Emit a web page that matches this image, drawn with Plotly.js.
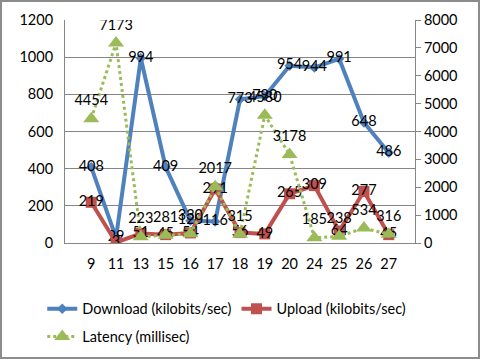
<!DOCTYPE html>
<html>
<head>
<meta charset="utf-8">
<script src="https://cdn.plot.ly/plotly-3.0.1.min.js"></script>
<style>
html,body{margin:0;padding:0;background:#fff;}
#frame{width:480px;height:359px;box-sizing:border-box;border:2px solid #8c8c8c;overflow:hidden;}
#chart{width:476px;height:355px;}
</style>
</head>
<body>
<div id="frame"><div id="chart"></div></div>
<script>
var categories = ["9","11","13","15","16","17","18","19","20","24","25","26","27"];
var download = [408, 29, 994, 409, 120, 116, 773, 790, 954, 944, 991, 648, 486];
var upload = [219, 3, 51, 45, 54, 291, 56, 49, 265, 309, 64, 277, 45];
var latency = [4454, 7173, 223, 281, 330, 2017, 315, 4580, 3178, 185, 238, 534, 316];

var fontFam = "Lato, 'Open Sans', sans-serif";
var fs = 14.5;
var traces = [
  {x: categories, y: download, name: "Download (kilobits/sec)", type: "scatter",
   mode: "lines+markers+text", text: download.map(String), textposition: "middle center",
   textfont: {family: fontFam, size: fs, color: "#000"}, legend: "legend",
   line: {color: "#4F81BD", width: 4}, marker: {symbol: "diamond", size: 8, color: "#4F81BD"}},
  {x: categories, y: upload, name: "Upload (kilobits/sec)", type: "scatter",
   mode: "lines+markers+text", text: upload.map(String), textposition: "middle center",
   textfont: {family: fontFam, size: fs, color: "#000"}, legend: "legend",
   line: {color: "#C0504D", width: 4}, marker: {symbol: "square", size: 11, color: "#C0504D"}},
  {x: categories, y: latency, name: "Latency (millisec)", type: "scatter", yaxis: "y2",
   mode: "lines+markers+text", text: latency.map(String), textposition: "top center",
   textfont: {family: fontFam, size: fs, color: "#000"}, legend: "legend2",
   line: {color: "#9BBB59", width: 3, dash: "dot"}, marker: {symbol: "triangle-up", size: 14, color: "#9BBB59"}}
];

var legendBase = {orientation: "h", xanchor: "left", yanchor: "middle",
                  font: {family: fontFam, size: fs, color: "#000"}, tracegroupgap: 0,
                  bgcolor: "rgba(0,0,0,0)"};
var layout = {
  width: 476, height: 355,
  margin: {l: 63, r: 63, t: 18, b: 114, autoexpand: false},
  paper_bgcolor: "#fff", plot_bgcolor: "#fff",
  font: {family: fontFam, size: fs, color: "#000"},
  showlegend: true,
  legend: Object.assign({}, legendBase, {x: -0.065, y: -0.295}),
  legend2: Object.assign({}, legendBase, {x: -0.065, y: -0.42}),
  xaxis: {type: "category", showline: true, linecolor: "#868686", linewidth: 1,
          showgrid: false, ticks: "outside", ticklen: 8, tickcolor: "rgba(0,0,0,0)",
          tickfont: {family: fontFam, size: fs}, fixedrange: true},
  yaxis: {range: [0, 1200], dtick: 200, showline: true, linecolor: "#868686", linewidth: 1,
          showgrid: true, gridcolor: "#868686", gridwidth: 1, zeroline: false,
          ticks: "outside", ticklen: 8, tickcolor: "rgba(0,0,0,0)",
          tickfont: {family: fontFam, size: fs}},
  yaxis2: {range: [0, 8000], dtick: 1000, overlaying: "y", side: "right",
           showline: true, linecolor: "#868686", linewidth: 1, showgrid: false, zeroline: false,
           ticks: "outside", ticklen: 5, tickcolor: "#868686",
           tickfont: {family: fontFam, size: fs}}
};
Plotly.newPlot("chart", traces, layout, {displayModeBar: false, staticPlot: true});
</script>
</body>
</html>
